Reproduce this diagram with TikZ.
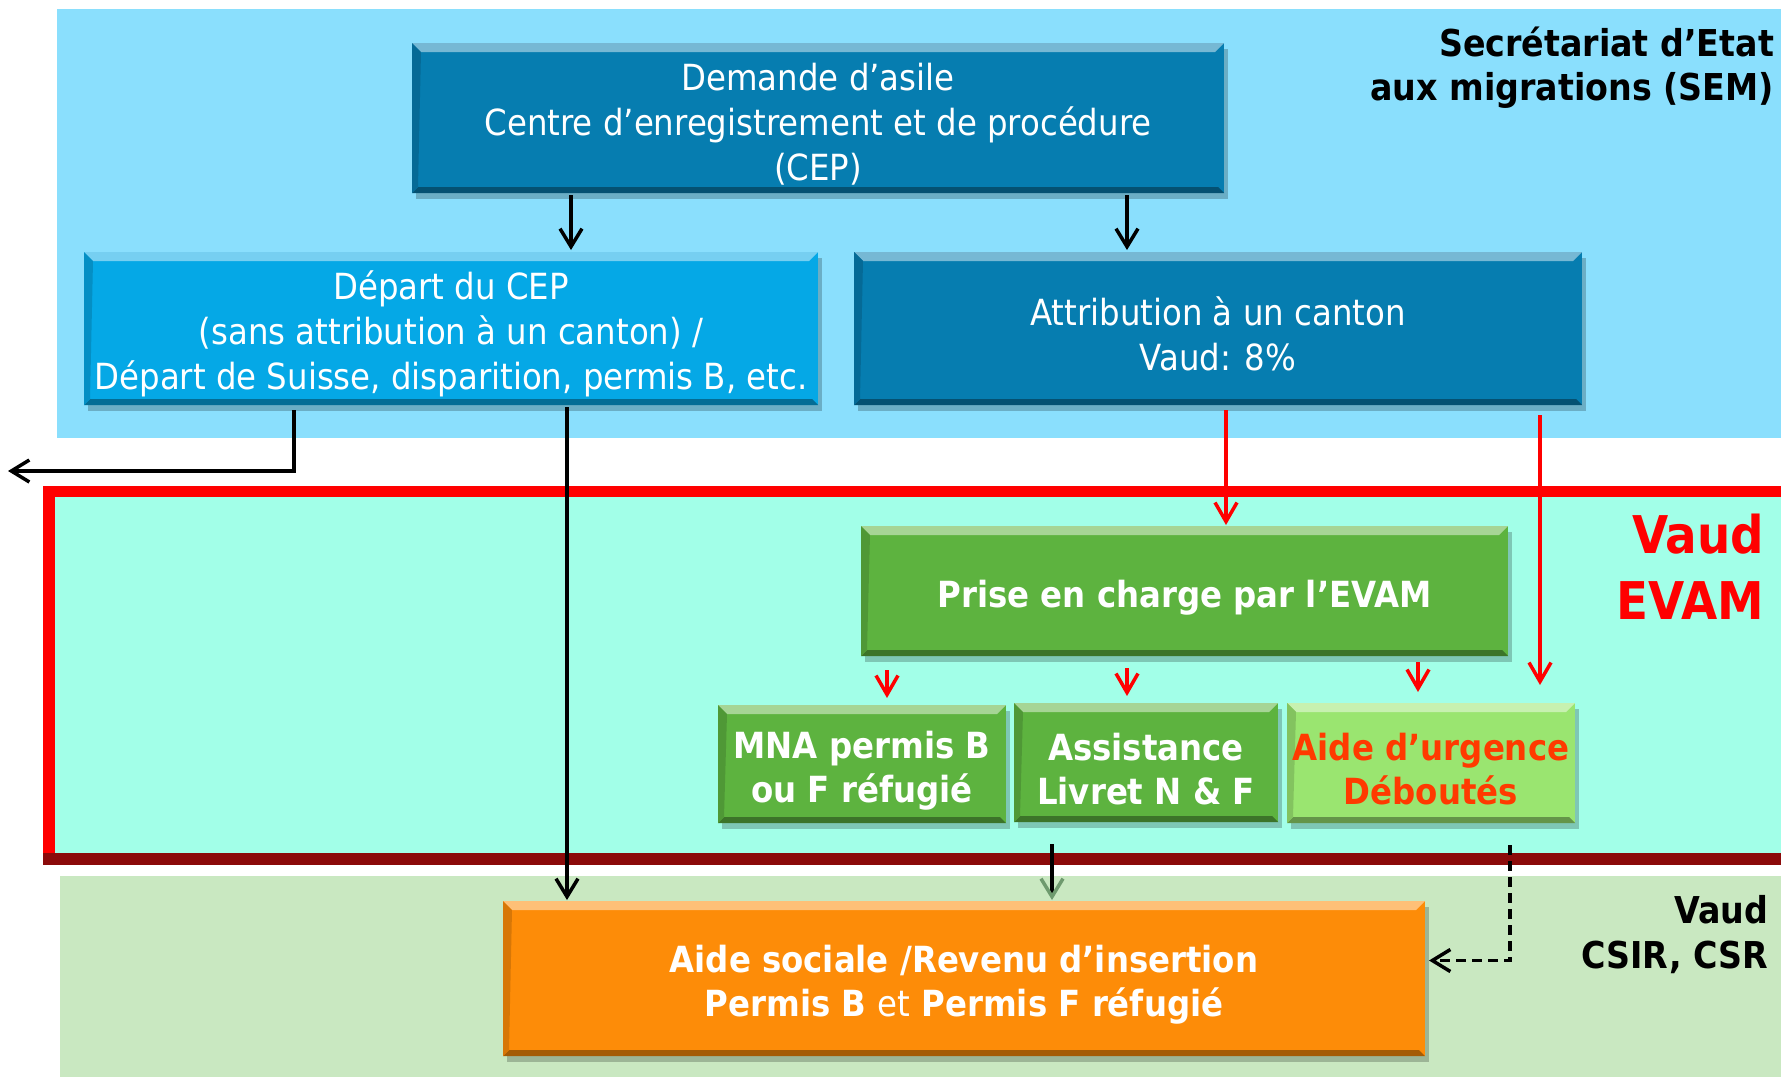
\documentclass[tikz,border=0pt]{standalone}
\usepackage{fontspec}
\newfontfamily\boxfont{DejaVu Sans Condensed}
\newcommand*{\haut}{\rule{0pt}{40pt}}
\definecolor{SEM}{HTML}{8ADFFD}
\definecolor{CEP}{HTML}{067DB0}
\definecolor{DEP}{HTML}{05A8E6}
\definecolor{EVAM}{HTML}{A2FFE8}
\definecolor{ROUGE}{HTML}{FF0000}
\definecolor{BORDEAUX}{HTML}{8B0A0A}
\definecolor{VERT}{HTML}{5DB33F}
\definecolor{CLAIR}{HTML}{9AE570}
\definecolor{URG}{HTML}{FF3A00}
\definecolor{CSR}{HTML}{C9E8C1}
\definecolor{ORANGE}{HTML}{FD8C08}
\definecolor{POINTE}{HTML}{6E9A6E}
\usepackage{tikz}
\usetikzlibrary{arrows.meta}
\usetikzlibrary{shadows}
\tikzstyle{base}=[x=1pt, y=-1pt, inner sep=0pt, outer sep=0pt, font=\boxfont]
\tikzset{box/.style={fill=#1, text=white, align=center,
    font=\boxfont\fontsize{36}{45}\selectfont,
    drop shadow={shadow xshift=4pt, shadow yshift=-6pt, opacity=0.22, fill=black},
    path picture={
        \fill[#1!55!white] (path picture bounding box.north west) -- (path picture bounding box.north east)
            -- ([xshift=-9pt, yshift=-9pt]path picture bounding box.north east) -- ([xshift=9pt, yshift=-9pt]path picture bounding box.north west) -- cycle;
        \fill[#1!65!black] (path picture bounding box.south west) -- (path picture bounding box.south east)
            -- ([xshift=-6pt, yshift=6pt]path picture bounding box.south east) -- ([xshift=6pt, yshift=6pt]path picture bounding box.south west) -- cycle;
        \fill[#1!85!black] (path picture bounding box.north west) -- ([xshift=9pt, yshift=-9pt]path picture bounding box.north west)
            -- ([xshift=6pt, yshift=6pt]path picture bounding box.south west) -- (path picture bounding box.south west) -- cycle;
    }}}
\tikzstyle{bold}=[font=\boxfont\bfseries\fontsize{36}{44}\selectfont]
\tikzstyle{titre}=[align=right, anchor=east, font=\boxfont\bfseries\fontsize{37}{44}\selectfont]
\tikzstyle{fleche}=[line width=3.5pt, -{Straight Barb[length=18pt, width=22pt]}]
\tikzstyle{rouge}=[ROUGE, line width=3.5pt, -{Straight Barb[length=19pt, width=22pt]}]

\begin{document}
\begin{tikzpicture}[base]
    \useasboundingbox (0,0) rectangle (1781,1077);
        \fill [SEM] (57,9) rectangle (1781,438);
        \fill [ROUGE] (43,486) rectangle (1781,865);
        \fill [BORDEAUX] (43,853) rectangle (1781,865);
        \fill [EVAM] (55,497) rectangle (1781,853);
        \fill [CSR] (60,876) rectangle (1781,1077);
        \node [box=CEP, minimum width=812pt, minimum height=150pt] (demande) at (818,118) {\haut Demande d’asile\\Centre d’enregistrement et de procédure\\(CEP)};
        \node [box=DEP, minimum width=734pt, minimum height=153pt] (depart) at (451,328.5) {\haut Départ du CEP\\(sans attribution à un canton) /\\Départ de Suisse, disparition, permis B, etc.};
        \node [box=CEP, minimum width=728pt, minimum height=153pt] (attribution) at (1218,328.5) {\haut Attribution à un canton\\Vaud: 8\%};
        \node [box=VERT, bold, minimum width=647pt, minimum height=130pt] (prise) at (1184.5,591) {\haut Prise en charge par l’EVAM};
        \node [box=VERT, bold, minimum width=288pt, minimum height=118pt] (mna) at (862,764) {\haut MNA permis B\\ou F réfugié};
        \node [box=VERT, bold, minimum width=264pt, minimum height=119pt] (assistance) at (1146,762.5) {\haut Assistance\\Livret N \& F};
        \node [box=CLAIR, bold, text=URG, minimum width=288pt, minimum height=120pt] (urgence) at (1431,763) {\haut Aide d’urgence\\Déboutés};
        \node [box=ORANGE, bold, minimum width=922pt, minimum height=155pt] (sociale) at (964,978.5) {\haut Aide sociale /Revenu d’insertion\\Permis B {\mdseries et} Permis F réfugié};
        \node [titre] (sem) at (1774,68) {Secrétariat d’Etat\\aux migrations (SEM)};
        \node [titre, ROUGE, font=\boxfont\bfseries\fontsize{52}{66}\selectfont] (vaud) at (1764,567) {Vaud\\EVAM};
        \node [titre, font=\boxfont\bfseries\fontsize{37}{45}\selectfont] (csir) at (1768,935) {Vaud\\CSIR, CSR};
        \coordinate (sortie) at (8,471);
        \draw [fleche, shorten <=2pt, shorten >=2pt] ([xshift=-247pt]demande.south) -- ([xshift=120pt]depart.north);
        \draw [fleche, shorten <=2pt, shorten >=2pt] ([xshift=309pt]demande.south) -- ([xshift=-91pt]attribution.north);
        \draw [fleche, shorten <=5pt] ([xshift=-157pt]depart.south) |- (sortie);
        \draw [fleche, shorten <=2pt, shorten >=1pt] ([xshift=116pt]depart.south) -- ([xshift=-397pt]sociale.north);
        \draw [rouge, shorten <=5pt, shorten >=1pt] ([xshift=8pt]attribution.south) -- ([xshift=41.5pt]prise.north);
        \draw [rouge, shorten <=10pt, shorten >=18pt] ([xshift=322pt]attribution.south) -- ([xshift=109pt]urgence.north);
        \draw [rouge, shorten <=14pt, shorten >=7pt] ([xshift=-297.5pt]prise.south) -- ([xshift=25pt]mna.north);
        \draw [rouge, shorten <=12pt, shorten >=7pt] ([xshift=-57.5pt]prise.south) -- ([xshift=-19pt]assistance.north);
        \draw [rouge, shorten <=6pt, shorten >=11pt] ([xshift=233.5pt]prise.south) -- ([xshift=-13pt]urgence.north);
        \draw [line width=3.5pt, -{Straight Barb[length=18pt, width=22pt, color=POINTE]}, shorten <=22pt, shorten >=1pt] ([xshift=-94pt]assistance.south) -- ([xshift=88pt]sociale.north);
        \draw [fleche, dash pattern=on 10pt off 6pt, shorten <=22pt, shorten >=4pt] ([xshift=79pt]urgence.south) |- ([yshift=18pt]sociale.east);
    \end{tikzpicture}
\end{document}
